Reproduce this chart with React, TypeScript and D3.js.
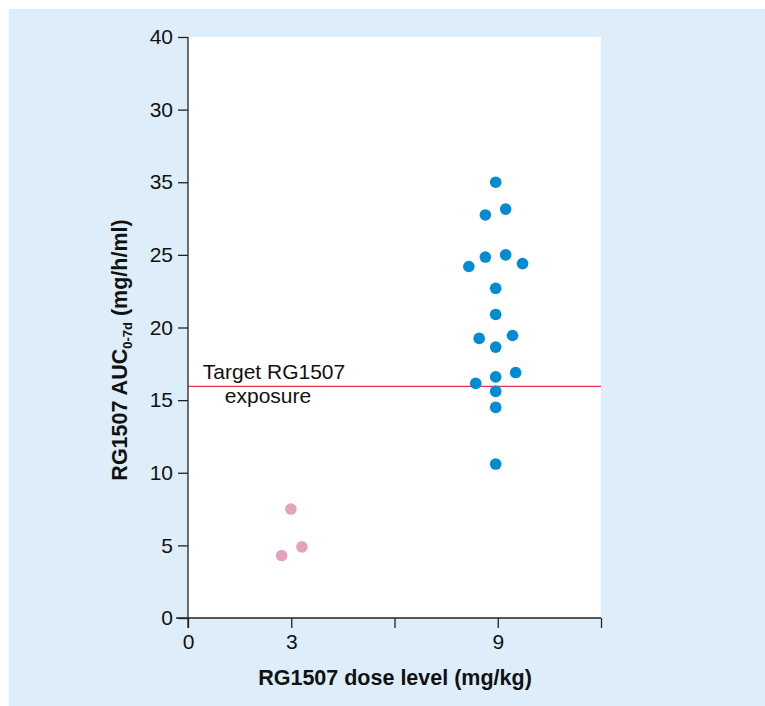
import React, { useEffect, useRef } from 'react';
import * as d3 from 'd3';

// dose (mg/kg, jittered) and AUC values
const dose3X = [2.99, 3.31, 2.72];
const dose3Y = [7.5, 4.9, 4.3];

const dose9X = [8.94, 8.64, 9.23, 8.16, 8.64, 9.23, 9.72, 8.94, 8.94, 8.46, 9.43, 8.94, 8.94, 9.52, 8.36, 8.94, 8.94, 8.94];
const dose9Y = [30.0, 27.75, 28.15, 24.2, 24.85, 25.0, 24.4, 22.7, 20.9, 19.25, 19.45, 18.65, 16.6, 16.9, 16.15, 15.6, 14.5, 10.6];

const targetExposure = 15.95;

const yTicks = [0, 5, 10, 15, 20, 25, 30, 35, 40];
const yTickLabels = ['0', '5', '10', '15', '20', '25', '35', '30', '40'];
const xTicks = [0, 3, 6, 9, 12];
const xTickLabels = ['0', '3', '', '9', ''];

const App = () => {
  const svgRef = useRef<SVGSVGElement>(null);

  useEffect(() => {
    const svg = d3.select(svgRef.current);
    svg.selectAll('*').remove();

    const font = '"Liberation Sans", Arial, Helvetica, sans-serif';

    // light blue panel
    svg.append('rect')
      .attr('x', 9).attr('y', 9)
      .attr('width', 765).attr('height', 706)
      .attr('fill', '#ddeefa');

    const x = d3.scaleLinear().domain([0, 12]).range([188, 601]);
    const y = d3.scaleLinear().domain([0, 40]).range([618, 37]);

    // white plot area
    svg.append('rect')
      .attr('x', x(0)).attr('y', y(40))
      .attr('width', x(12) - x(0)).attr('height', y(0) - y(40))
      .attr('fill', '#ffffff');

    // target line
    svg.append('line')
      .attr('x1', x(0)).attr('x2', x(12))
      .attr('y1', y(targetExposure)).attr('y2', y(targetExposure))
      .attr('stroke', '#e6334d')
      .attr('stroke-width', 1.4);

    svg.append('text')
      .attr('x', 274).attr('y', 379)
      .attr('text-anchor', 'middle')
      .style('font-family', font).style('font-size', '21px').attr('fill', '#111')
      .text('Target RG1507');
    svg.append('text')
      .attr('x', 268).attr('y', 403)
      .attr('text-anchor', 'middle')
      .style('font-family', font).style('font-size', '21px').attr('fill', '#111')
      .text('exposure');

    // axes
    const yAxis = svg.append('g')
      .attr('transform', `translate(${x(0)},0)`)
      .call(d3.axisLeft(y).tickValues(yTicks).tickSize(10).tickPadding(5)
        .tickFormat((d, i) => yTickLabels[i]));
    yAxis.select('.domain').attr('d', `M0,${y(40)}V${y(0) + 10}`);

    const xAxis = svg.append('g')
      .attr('transform', `translate(0,${y(0)})`)
      .call(d3.axisBottom(x).tickValues(xTicks).tickSize(10).tickPadding(6)
        .tickFormat((d, i) => xTickLabels[i]));
    xAxis.select('.domain').attr('d', `M${x(0) - 12},0H${x(12)}`);

    [yAxis, xAxis].forEach(g => {
      g.selectAll('line').attr('stroke', '#222').attr('stroke-width', 1.3);
      g.select('.domain').attr('stroke', '#222').attr('stroke-width', 1.3);
      g.selectAll('text')
        .style('font-family', font).style('font-size', '21px').attr('fill', '#111');
    });

    // points
    svg.append('g').selectAll('circle')
      .data(dose3X.map((d, i) => [d, dose3Y[i]]))
      .join('circle')
      .attr('cx', d => x(d[0])).attr('cy', d => y(d[1]))
      .attr('r', 5.8)
      .attr('fill', '#e3a3bd');

    svg.append('g').selectAll('circle')
      .data(dose9X.map((d, i) => [d, dose9Y[i]]))
      .join('circle')
      .attr('cx', d => x(d[0])).attr('cy', d => y(d[1]))
      .attr('r', 5.8)
      .attr('fill', '#008bd2');

    // axis titles
    svg.append('text')
      .attr('x', 395).attr('y', 685)
      .attr('text-anchor', 'middle')
      .style('font-family', font).style('font-size', '21.5px').style('font-weight', 'bold')
      .attr('fill', '#111')
      .text('RG1507 dose level (mg/kg)');

    const yt = svg.append('text')
      .attr('transform', 'translate(127,350) rotate(-90)')
      .attr('text-anchor', 'middle')
      .style('font-family', font).style('font-size', '21.5px').style('font-weight', 'bold')
      .attr('fill', '#111');
    yt.append('tspan').text('RG1507 AUC');
    yt.append('tspan').attr('dy', 5).style('font-size', '13px').text('0-7d');
    yt.append('tspan').attr('dy', -5).text(' (mg/h/ml)');
  }, []);

  return (
    <svg ref={svgRef} width={765} height={706}
      style={{ position: 'absolute', left: 0, top: 0, display: 'block' }} />
  );
};

export default App;
